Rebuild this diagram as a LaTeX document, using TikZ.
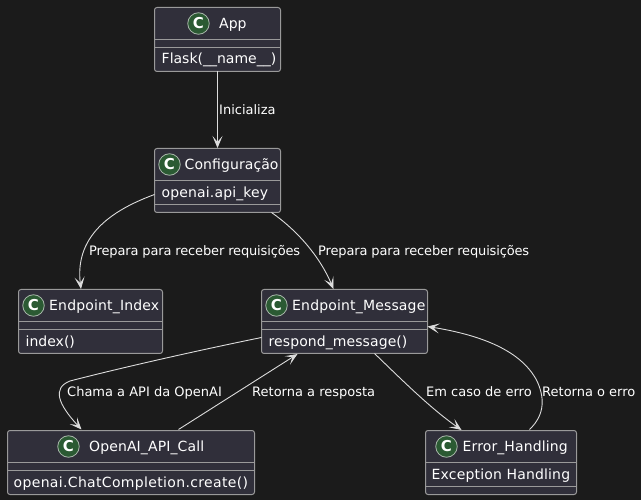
\documentclass[tikz,border=0pt]{standalone}
\usepackage{fontspec}
\setmainfont{DejaVu Sans}
\usetikzlibrary{arrows.meta,calc}
\definecolor{bgc}{HTML}{1B1B1B}
\definecolor{boxc}{HTML}{302F3A}
\definecolor{edgec}{HTML}{9A9A9A}
\definecolor{linkc}{HTML}{DCDCDC}
\definecolor{circc}{HTML}{2B5A33}
\tikzset{
  umlbox/.style={draw=edgec,fill=boxc,line width=1pt,rounded corners=2.5pt,inner sep=0pt,outer sep=0pt},
  sepline/.style={draw=edgec,line width=1pt},
  badge/.style={circle,draw=linkc!70!circc,fill=circc,line width=0.8pt,minimum size=21.5pt,inner sep=0pt,text=white,font=\fontsize{15}{15}\selectfont\bfseries},
  cname/.style={anchor=base west,inner sep=0pt,text=white,font=\fontsize{14}{16}\selectfont},
  lab/.style={anchor=base west,inner sep=0pt,text=white,font=\fontsize{13}{15}\selectfont},
  link/.style={draw=linkc,line width=0.9pt,-{Stealth[length=12pt,width=10pt,inset=6pt]}},
}
\newcommand{\umlclass}[7]{% name x0 y0 x1 y1 line1 line2
  \node[umlbox,minimum width={(#4-#2)*1pt},minimum height={(#5-#3)*1pt}] (#1) at ({(#2+#4)/2},{(#3+#5)/2}) {};
  \draw[sepline] (#2,#6) -- (#4,#6);
  \draw[sepline] (#2,#7) -- (#4,#7);
}
\begin{document}
\begin{tikzpicture}[x=1pt,y=-1pt]
\useasboundingbox (0,0) rectangle (641,500);
\fill[bgc] (0,0) rectangle (641,500);
\umlclass{app}{154.5}{7.5}{280.5}{71.5}{39.5}{47.5}
\umlclass{cfg}{154.5}{148.5}{280.5}{212.5}{180.5}{204.5}
\umlclass{idx}{18.5}{289.5}{162.5}{353.5}{321.5}{329.5}
\umlclass{msg}{261.5}{289.5}{427.5}{353.5}{321.5}{329.5}
\umlclass{api}{7.5}{430.5}{254.5}{494.5}{462.5}{470.5}
\umlclass{err}{425.5}{430.5}{576.5}{494.5}{462.5}{486.5}
\node[badge] (appc) at (198.5,23.5) {C};
\node[badge] (cfgc) at (169.5,164.5) {C};
\node[badge] (idxc) at (33.5,305.5) {C};
\node[badge] (msgc) at (276.5,305.5) {C};
\node[badge] (apic) at (68.5,446.5) {C};
\node[badge] (errc) at (446.5,446.5) {C};
\node[cname] (appn) at (219,28.5) {App};
\node[cname] (cfgn) at (184.5,169.5) {\addfontfeature{LetterSpace=0.6}Configuração};
\node[cname] (idxn) at (49,310.5) {\addfontfeature{LetterSpace=1.2}Endpoint\_Index};
\node[cname] (msgn) at (292,310.5) {\addfontfeature{LetterSpace=1.2}Endpoint\_Message};
\node[cname] (apin) at (89,451.5) {\addfontfeature{LetterSpace=0.8}OpenAI\_API\_Call};
\node[cname] (errn) at (462.5,451.5) {\addfontfeature{LetterSpace=0.8}Error\_Handling};
\node[cname] (appm) at (161.5,64) {Flask(\_\_name\_\_)};
\node[cname] (cfgm) at (161.5,198) {\addfontfeature{LetterSpace=1}openai.api\_key};
\node[cname] (idxm) at (25.5,346.5) {index()};
\node[cname] (msgm) at (268.5,346) {\addfontfeature{LetterSpace=0.6}respond\_message()};
\node[cname] (apim) at (13.5,487) {\addfontfeature{LetterSpace=2.4}openai.ChatCompletion.create()};
\node[cname] (errm) at (431.5,479) {\addfontfeature{LetterSpace=1.2}Exception Handling};
\draw[link] (app.south) -- ($(cfg.north)+(0,-0.5)$);
\draw[link] ($(cfg.north west)+(0,46)$) .. controls (118,208) and (74,232) .. ($(idx.north west)+(62.5,-0.5)$);
\draw[link] ($(cfg.south west)+(117,0)$) .. controls (298,231) and (320,257) .. ($(msg.north west)+(72,-0.5)$);
\draw[link] ($(msg.north west)+(0,48)$) .. controls (200,350) and (120,368) .. (70,381) .. controls (52,388) and (58,404) .. ($(api.north west)+(74,-1)$);
\draw[link] ($(api.north west)+(171,-1)$) -- ($(msg.south west)+(36,0.5)$);
\draw[link] ($(msg.south west)+(113,0)$) .. controls (400,378) and (430,408) .. ($(err.north west)+(36,-0.5)$);
\draw[link] ($(err.north west)+(104,-1)$) .. controls (546,414) and (544,396) .. (537,381) .. controls (521,350) and (480,335) .. ($(msg.north east)+(0,37)$);
\node[lab] (l1) at (219,114.5) {Inicializa};
\node[lab] (l2) at (89,255.5) {\addfontfeature{LetterSpace=-1.2}Prepara para receber requisições};
\node[lab] (l3) at (318,255.5) {\addfontfeature{LetterSpace=-1.2}Prepara para receber requisições};
\node[lab] (l4) at (67,396.5) {Chama a API da OpenAI};
\node[lab] (l5) at (252,396.5) {Retorna a resposta};
\node[lab] (l6) at (426,396.5) {Em caso de erro};
\node[lab] (l7) at (542,396.5) {Retorna o erro};
\end{tikzpicture}
\end{document}
